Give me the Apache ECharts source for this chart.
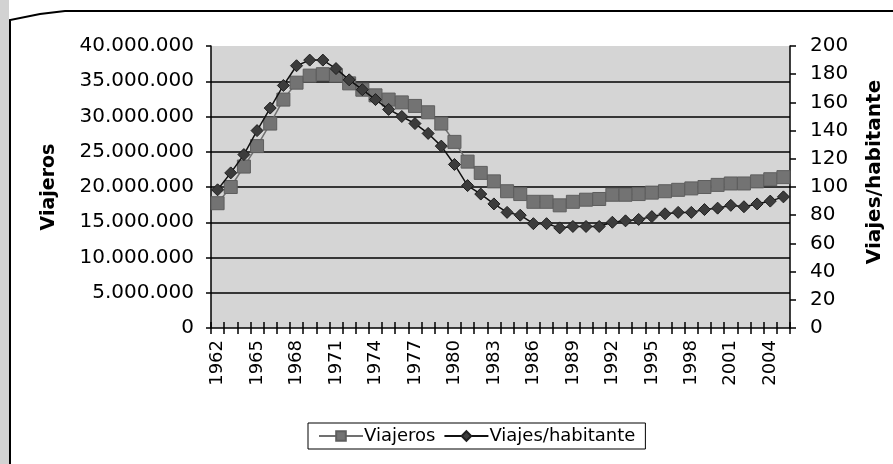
<!DOCTYPE html>
<html>
<head>
<meta charset="utf-8">
<script src="https://cdn.jsdelivr.net/npm/echarts@6/dist/echarts.min.js"></script>
<style>
  html, body { margin: 0; padding: 0; background: #fff; }
  #chart { width: 893px; height: 464px; }
</style>
</head>
<body>
<div id="chart"></div>
<script>
// años
const years = []
for (let y = 1962; y <= 2005; y++) years.push(String(y))

// Viajeros (nº de viajeros al año)
const viajeros = [
  17700000, 20000000, 22900000, 25800000, 29000000, 32400000, 34800000, 35800000,
  36000000, 35800000, 34700000, 33800000, 33000000, 32400000, 32000000, 31500000,
  30600000, 29000000, 26400000, 23600000, 22000000, 20800000, 19400000, 19000000,
  17900000, 17900000, 17400000, 17900000, 18200000, 18300000, 18900000, 18900000,
  19000000, 19200000, 19400000, 19600000, 19800000, 20000000, 20300000, 20500000,
  20500000, 20800000, 21100000, 21400000
]

// Viajes por habitante
const viajesHab = [
  98, 110, 123, 140, 156, 172, 186, 190, 190, 184, 176, 169, 162, 155, 150, 145,
  138, 129, 116, 101, 95, 88, 82, 80, 74, 74, 71, 72, 72, 72, 75, 76,
  77, 79, 81, 82, 82, 84, 85, 87, 86, 88, 90, 93
]

const leftTicks = { min: 0, max: 40000000, interval: 5000000 }
const rightTicks = { min: 0, max: 200, interval: 20 }

const font = 'DejaVu Sans'
const miles = v => String(v).replace(/\B(?=(\d{3})+(?!\d))/g, '.')
const black = { color: '#000', width: 1.5 }

const chart = echarts.init(document.getElementById('chart'), null, { renderer: 'canvas' })

const option = {
  backgroundColor: '#fff',
  animation: false,
  textStyle: { fontFamily: font, color: '#000' },
  graphic: [
    // franja gris del borde izquierdo
    { type: 'rect', shape: { x: 0, y: 0, width: 9, height: 464 }, style: { fill: '#d2d2d2' }, z: -10 },
    // marco exterior
    {
      type: 'polyline',
      shape: { points: [[10, 464], [10, 20], [40, 14], [65, 11], [893, 11]] },
      style: { stroke: '#000', lineWidth: 2, fill: null },
      z: -5
    }
  ],
  legend: {
    left: 308,
    top: 423,
    padding: [4, 10, 4, 10],
    borderColor: '#000',
    borderWidth: 1,
    itemWidth: 44,
    itemHeight: 12,
    itemGap: 8,
    textStyle: { fontFamily: font, fontSize: 18, color: '#000', padding: [0, 0, 0, -4] },
    data: ['Viajeros', 'Viajes/habitante']
  },
  grid: {
    left: 211,
    right: 97,
    top: 46,
    bottom: 136,
    show: true,
    backgroundColor: '#d5d5d5',
    borderWidth: 0
  },
  xAxis: {
    type: 'category',
    data: years,
    position: 'bottom',
    // eje subido 6px: las marcas de 12px cruzan la línea del 0 (splitLine del eje izquierdo)
    offset: -6,
    axisLine: { show: false, onZero: false },
    axisTick: { show: true, interval: 0, length: 12, lineStyle: black },
    axisLabel: {
      interval: 2,
      rotate: 90,
      margin: 18,
      fontFamily: font,
      fontSize: 18,
      color: '#000'
    },
    splitLine: { show: false }
  },
  yAxis: [
    {
      type: 'value',
      ...leftTicks,
      position: 'left',
      name: 'Viajeros',
      nameLocation: 'middle',
      nameGap: 152,
      nameRotate: 90,
      nameTextStyle: { fontFamily: font, fontSize: 19, fontWeight: 'bold', color: '#000' },
      axisLine: { show: true, lineStyle: black },
      axisTick: { show: true, length: 5, lineStyle: black },
      axisLabel: { margin: 17, fontFamily: font, fontSize: 20, color: '#000', formatter: miles },
      splitLine: { show: true, showMinLine: true, showMaxLine: false, lineStyle: black }
    },
    {
      type: 'value',
      ...rightTicks,
      position: 'right',
      name: 'Viajes/habitante',
      nameLocation: 'middle',
      nameGap: 75,
      nameRotate: 90,
      nameTextStyle: { fontFamily: font, fontSize: 20, fontWeight: 'bold', color: '#000', padding: [0, 0, 0, 30] },
      axisLine: { show: true, lineStyle: black },
      axisTick: { show: true, length: 6, lineStyle: black },
      axisLabel: { margin: 20, fontFamily: font, fontSize: 20, color: '#000' },
      splitLine: { show: false }
    }
  ],
  series: [
    {
      name: 'Viajeros',
      type: 'line',
      yAxisIndex: 0,
      data: viajeros,
      symbol: 'rect',
      symbolSize: 13,
      showAllSymbol: true,
      itemStyle: { color: '#737373', borderColor: '#5e5e5e', borderWidth: 1 },
      lineStyle: { color: '#707070', width: 1.5 },
      z: 2
    },
    {
      name: 'Viajes/habitante',
      type: 'line',
      yAxisIndex: 1,
      data: viajesHab,
      symbol: 'diamond',
      symbolSize: 12,
      showAllSymbol: true,
      itemStyle: { color: '#3c3c3c', borderColor: '#1e1e1e', borderWidth: 1 },
      lineStyle: { color: '#111', width: 1.5 },
      z: 3
    }
  ]
}

chart.setOption(option)
</script>
</body>
</html>
